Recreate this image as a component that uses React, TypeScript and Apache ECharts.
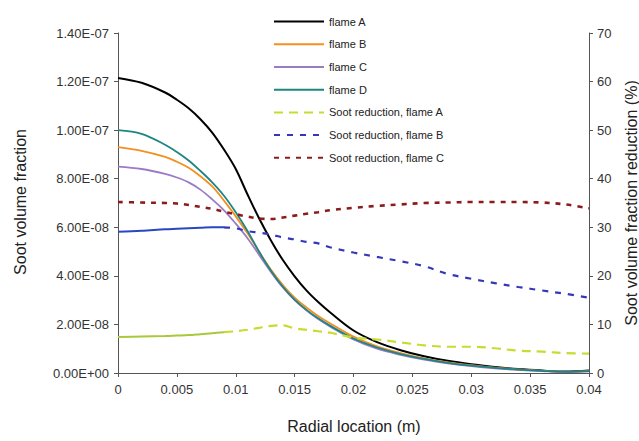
import React, { useEffect, useRef } from "react";
import * as echarts from "echarts";

// Radial location (m)
const radial = [0, 0.002, 0.004, 0.005, 0.006, 0.007, 0.008, 0.009, 0.010, 0.011, 0.012, 0.013, 0.014, 0.015, 0.016, 0.017, 0.018, 0.020, 0.022, 0.024, 0.026, 0.028, 0.030, 0.032, 0.034, 0.036, 0.038, 0.040];

// Soot volume fraction in units of 1e-8
const flameA = [12.15, 11.95, 11.55, 11.25, 10.9, 10.45, 9.9, 9.2, 8.4, 7.35, 6.35, 5.45, 4.65, 3.98, 3.4, 2.92, 2.5, 1.75, 1.27, 0.94, 0.69, 0.5, 0.36, 0.25, 0.16, 0.1, 0.06, 0.1];
const flameB = [9.3, 9.15, 8.9, 8.7, 8.45, 8.1, 7.68, 7.1, 6.45, 5.75, 4.98, 4.25, 3.62, 3.1, 2.7, 2.35, 2.05, 1.5, 1.1, 0.82, 0.6, 0.44, 0.32, 0.22, 0.15, 0.09, 0.05, 0.08];
const flameC = [8.5, 8.4, 8.2, 8.05, 7.85, 7.55, 7.15, 6.7, 6.15, 5.55, 4.85, 4.15, 3.52, 3.0, 2.58, 2.22, 1.92, 1.38, 1.0, 0.75, 0.55, 0.4, 0.28, 0.19, 0.13, 0.08, 0.04, 0.07];
const flameD = [10.0, 9.85, 9.4, 9.1, 8.75, 8.32, 7.85, 7.3, 6.62, 5.85, 4.98, 4.2, 3.55, 3.02, 2.6, 2.25, 1.95, 1.42, 1.05, 0.78, 0.58, 0.42, 0.3, 0.21, 0.14, 0.09, 0.05, 0.08];

// Soot volume fraction reduction (%)
const reductionA = [7.4, 7.5, 7.6, 7.7, 7.8, 8.0, 8.2, 8.4, 8.6, 8.9, 9.3, 9.7, 9.8, 9.2, 8.9, 8.6, 8.3, 7.3, 6.9, 6.3, 5.7, 5.4, 5.4, 5.1, 4.6, 4.4, 4.1, 4.0];
const reductionB = [29.1, 29.3, 29.6, 29.7, 29.8, 29.9, 30.0, 30.0, 29.8, 29.2, 28.9, 28.5, 27.9, 27.5, 27.0, 26.7, 25.9, 24.8, 23.9, 23.0, 22.0, 20.4, 19.4, 18.5, 17.7, 17.0, 16.3, 15.5];
const reductionC = [35.2, 35.1, 35.0, 34.9, 34.6, 34.2, 33.8, 33.2, 32.7, 32.2, 31.8, 31.7, 32.0, 32.4, 32.8, 33.1, 33.5, 34.0, 34.4, 34.7, 35.0, 35.1, 35.2, 35.2, 35.2, 35.1, 34.7, 33.9];

const SCALE = 1e-8;
const SOLID_END = 7; // index up to which reduction A/B curves look solid

const legendNames = [
  "flame A",
  "flame B",
  "flame C",
  "flame D",
  "Soot reduction, flame A",
  "Soot reduction, flame B",
  "Soot reduction, flame C",
];

function pairs(ys: number[], scale = 1, from = 0, to = ys.length) {
  const out: [number, number][] = [];
  for (let i = from; i < to; i++) out.push([radial[i], ys[i] * scale]);
  return out;
}

function sci(v: number) {
  const [m, e] = v.toExponential(2).split("e");
  const sign = e[0] === "-" ? "-" : "+";
  const digits = e.replace(/^[+-]/, "").padStart(2, "0");
  return `${m}E${sign}${digits}`;
}

const FONT = "Liberation Sans, Arial, sans-serif";

export default function App() {
  const ref = useRef<HTMLDivElement>(null);
  useEffect(() => {
    if (!ref.current) return;
    const chart = echarts.init(ref.current, undefined, { renderer: "svg" });
    const common = { type: "line", symbol: "none", smooth: 0.35 };
    const solid = (name: string, data: number[], color: string, width = 1.8) => ({
      ...common,
      name,
      yAxisIndex: 0,
      data: pairs(data, SCALE),
      lineStyle: { color, width, type: "solid" },
      itemStyle: { color },
    });
    const option: any = {
      animation: false,
      backgroundColor: "#ffffff",
      textStyle: { fontFamily: FONT },
      grid: { left: 118, right: 50, top: 33, bottom: 68, containLabel: false },
      legend: {
        data: legendNames,
        orient: "vertical",
        left: 268,
        top: 11,
        itemWidth: 50,
        itemHeight: 14,
        itemGap: 11.5,
        itemStyle: { opacity: 0 },
        textStyle: { fontFamily: FONT, fontSize: 11, color: "#222" },
        backgroundColor: "transparent",
      },
      xAxis: {
        type: "value",
        min: 0,
        max: 0.04,
        interval: 0.005,
        axisLine: { lineStyle: { color: "#555", width: 1 } },
        axisTick: { show: true, inside: false, length: 4, lineStyle: { color: "#555" } },
        axisLabel: {
          fontFamily: FONT,
          fontSize: 13,
          color: "#333",
          margin: 10,
          formatter: (v: number) => String(+v.toFixed(3)),
        },
        splitLine: { show: false },
      },
      yAxis: [
        {
          type: "value",
          min: 0,
          max: 14 * SCALE,
          interval: 2 * SCALE,
          axisLine: { show: true, lineStyle: { color: "#555", width: 1 } },
          axisTick: { show: true, inside: false, length: 4, lineStyle: { color: "#555" } },
          axisLabel: { fontFamily: FONT, fontSize: 13, color: "#333", margin: 9, formatter: (v: number) => sci(v) },
          splitLine: { show: false },
        },
        {
          type: "value",
          min: 0,
          max: 70,
          interval: 10,
          position: "right",
          axisLine: { show: true, lineStyle: { color: "#555", width: 1 } },
          axisTick: { show: true, inside: false, length: 4, lineStyle: { color: "#555" } },
          axisLabel: { fontFamily: FONT, fontSize: 13, color: "#333", margin: 8 },
          splitLine: { show: false },
        },
      ],
      graphic: [
        {
          type: "text",
          x: 20,
          y: 202,
          rotation: Math.PI / 2,
          style: { text: "Soot volume fraction", font: `16px ${FONT}`, fill: "#222", textAlign: "center", textVerticalAlign: "middle" },
        },
        {
          type: "text",
          x: 631,
          y: 203,
          rotation: Math.PI / 2,
          style: { text: "Soot volume fraction reduction (%)", font: `16px ${FONT}`, fill: "#222", textAlign: "center", textVerticalAlign: "middle" },
        },
        {
          type: "text",
          x: 354,
          y: 426,
          style: { text: "Radial location (m)", font: `16px ${FONT}`, fill: "#222", textAlign: "center", textVerticalAlign: "middle" },
        },
      ],
      series: [
        solid("flame A", flameA, "#000000", 2),
        solid("flame B", flameB, "#f39020"),
        solid("flame C", flameC, "#9a7cc6"),
        solid("flame D", flameD, "#1e8585"),
        {
          ...common,
          name: "reduction A (near axis)",
          yAxisIndex: 1,
          data: pairs(reductionA, 1, 0, SOLID_END + 1),
          lineStyle: { color: "#a9c83a", width: 2, type: "solid" },
        },
        {
          ...common,
          name: "Soot reduction, flame A",
          yAxisIndex: 1,
          data: pairs(reductionA, 1, SOLID_END),
          lineStyle: { color: "#c8dc30", width: 2.2, type: [9, 6] },
          itemStyle: { color: "#c8dc30" },
        },
        {
          ...common,
          name: "reduction B (near axis)",
          yAxisIndex: 1,
          data: pairs(reductionB, 1, 0, SOLID_END + 1),
          lineStyle: { color: "#2848c0", width: 2, type: "solid" },
        },
        {
          ...common,
          name: "Soot reduction, flame B",
          yAxisIndex: 1,
          data: pairs(reductionB, 1, SOLID_END),
          lineStyle: { color: "#3438b8", width: 2.2, type: [6, 7] },
          itemStyle: { color: "#3438b8" },
        },
        {
          ...common,
          name: "Soot reduction, flame C",
          yAxisIndex: 1,
          data: pairs(reductionC),
          lineStyle: { color: "#8b1c1c", width: 2.6, type: [5, 6] },
          itemStyle: { color: "#8b1c1c" },
        },
      ],
    };
    chart.setOption(option);
    return () => chart.dispose();
  }, []);
  return <div ref={ref} style={{ width: 639, height: 441, position: "absolute", left: 0, top: 0 }} />;
}
